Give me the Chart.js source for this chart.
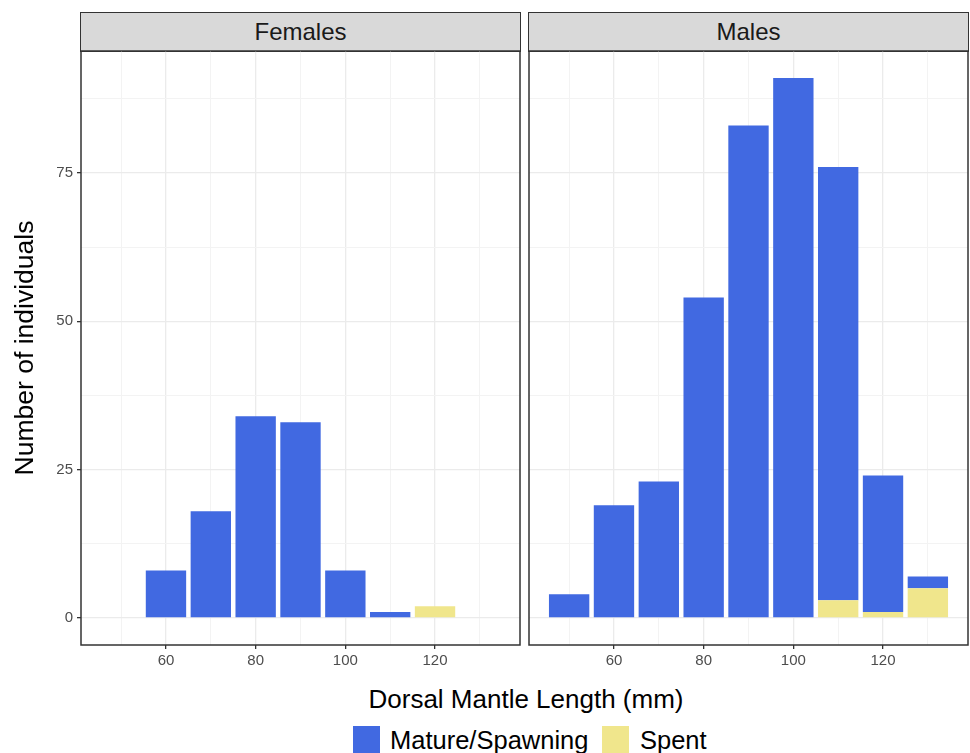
<!DOCTYPE html>
<html>
<head>
<meta charset="utf-8">
<script src="https://cdn.jsdelivr.net/npm/chart.js@4/dist/chart.umd.min.js"></script>
<style>
  body { margin: 0; background: #fff; font-family: "Liberation Sans", Arial, sans-serif; }
  #wrap { position: relative; width: 970px; height: 753px; overflow: hidden; }
  .panel { position: absolute; }
  .strip {
    position: absolute; top: 12px; height: 40px; box-sizing: border-box;
    background: #d9d9d9; border: 1.5px solid #333; text-align: center;
    font-size: 24px; color: #1a1a1a; line-height: 36px; padding-top: 1px;
  }
  .title { position: absolute; color: #000; font-size: 26px; line-height: 26px; white-space: nowrap; }
  .key { position: absolute; width: 27px; height: 27px; top: 726px; }
  .keylab { position: absolute; top: 728px; font-size: 25.5px; line-height: 25px; color: #000; }
</style>
</head>
<body>
<div id="wrap">
  <div class="strip" style="left:80px; width:441px;">Females</div>
  <div class="strip" style="left:528px; width:441px;">Males</div>
  <div class="panel" style="left:0; top:49px; width:523px; height:632px;"><canvas id="females"></canvas></div>
  <div class="panel" style="left:527px; top:49px; width:443px; height:632px;"><canvas id="males"></canvas></div>
  <div class="title" style="left:-176px; top:335px; width:400px; text-align:center; font-size:26.5px; transform:rotate(-90deg);">Number of individuals</div>
  <div class="title" style="left:326px; top:686px; width:400px; text-align:center;">Dorsal Mantle Length (mm)</div>
  <div class="key" style="left:353px; background:#4169e1;"></div>
  <div class="keylab" style="left:390px;">Mature/Spawning</div>
  <div class="key" style="left:602px; background:#f0e68c;"></div>
  <div class="keylab" style="left:640px;">Spent</div>
</div>
<script>
const bins = [50, 60, 70, 80, 90, 100, 110, 120, 130];
const femalesMature = [null, 8, 18, 34, 33, 8, 1, null, null];
const femalesSpent = [null, null, null, null, null, null, null, 2, null];
const malesMature = [4, 19, 23, 54, 83, 91, 73, 23, 2];
const malesSpent = [null, null, null, null, null, null, 3, 1, 5];

const xTicks = [50, 60, 70, 80, 90, 100, 110, 120, 130];
const xLabels = [60, 80, 100, 120];
const yTicks = [0, 12.5, 25, 37.5, 50, 62.5, 75, 87.5];
const yLabels = [0, 25, 50, 75];

const MATURE = "#4169e1";
const SPENT = "#f0e68c";

Chart.defaults.font.family = '"Liberation Sans", Arial, sans-serif';
Chart.defaults.color = "#4d4d4d";

function points(values) {
  return bins.map((b, i) => ({ x: b, y: values[i] })).filter((p) => p.y !== null);
}

function isMajor(list, c) {
  return c && c.tick ? list.includes(c.tick.value) : true;
}

const panelBorder = {
  id: "panelBorder",
  afterDraw(chart) {
    const a = chart.chartArea;
    const ctx = chart.ctx;
    ctx.save();
    ctx.strokeStyle = "#333";
    ctx.lineWidth = 1.5;
    ctx.strokeRect(a.left, a.top, a.right - a.left, a.bottom - a.top);
    ctx.restore();
  },
};

function makeChart(id, mature, spent, showY) {
  const ctx = document.getElementById(id).getContext("2d");
  return new Chart(ctx, {
    type: "bar",
    data: {
      datasets: [
        { label: "Spent", data: points(spent), backgroundColor: SPENT },
        { label: "Mature/Spawning", data: points(mature), backgroundColor: MATURE },
      ],
    },
    options: {
      responsive: true,
      maintainAspectRatio: false,
      animation: false,
      barPercentage: 0.9,
      categoryPercentage: 1.0,
      borderWidth: 0,
      layout: {
        autoPadding: false,
        padding: { top: 2, right: showY ? 3 : 2, left: showY ? 0 : 2, bottom: 0 },
      },
      plugins: { legend: { display: false }, tooltip: { enabled: false } },
      scales: {
        x: {
          type: "linear",
          stacked: true,
          offset: false,
          min: 41.05,
          max: 138.95,
          afterBuildTicks: (s) => { s.ticks = xTicks.map((v) => ({ value: v })); },
          afterFit: (s) => { s.height = 36; s.paddingLeft = 0; s.paddingRight = 0; },
          border: { display: false },
          grid: {
            offset: false,
            color: (c) => (isMajor(xLabels, c) ? "#ebebeb" : "#f3f3f3"),
            lineWidth: (c) => (isMajor(xLabels, c) ? 1.3 : 1),
            tickColor: (c) => (isMajor(xLabels, c) ? "#333" : "rgba(0,0,0,0)"),
            tickLength: 4,
          },
          ticks: {
            font: { size: 15 },
            color: "#4d4d4d",
            padding: 3,
            maxRotation: 0,
            autoSkip: false,
            callback: (v) => (xLabels.includes(v) ? String(v) : ""),
          },
        },
        y: {
          stacked: true,
          min: -4.55,
          max: 95.55,
          afterBuildTicks: (s) => { s.ticks = yTicks.map((v) => ({ value: v })); },
          afterFit: (s) => { s.width = showY ? 81 : 0; s.paddingTop = 0; s.paddingBottom = 0; },
          border: { display: false },
          grid: {
            color: (c) => (isMajor(yLabels, c) ? "#ebebeb" : "#f3f3f3"),
            lineWidth: (c) => (isMajor(yLabels, c) ? 1.3 : 1),
            tickColor: (c) => (isMajor(yLabels, c) ? "#333" : "rgba(0,0,0,0)"),
            drawTicks: showY,
            tickLength: 4,
          },
          ticks: {
            display: showY,
            font: { size: 15 },
            color: "#4d4d4d",
            padding: 4,
            autoSkip: false,
            callback: (v) => (yLabels.includes(v) ? String(v) : ""),
          },
        },
      },
    },
    plugins: [panelBorder],
  });
}

makeChart("females", femalesMature, femalesSpent, true);
makeChart("males", malesMature, malesSpent, false);
</script>
</body>
</html>
